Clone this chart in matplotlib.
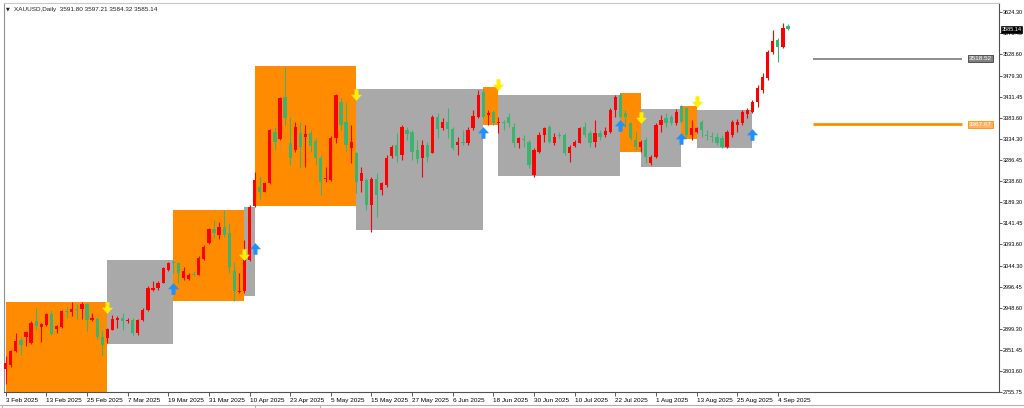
import matplotlib
matplotlib.use('Agg')
import matplotlib.pyplot as plt
import numpy as np
from matplotlib.path import Path
from matplotlib.patches import Rectangle
from matplotlib.lines import Line2D
import matplotlib.transforms as mtransforms

plt.rcParams['font.family'] = ['Liberation Sans', 'DejaVu Sans']

# ---------------- data ----------------
opens = [2808.3, 2818.1, 2848.5, 2873.7, 2881.4, 2867.7, 2917.1, 2904.3, 2909.5, 2934.7,
         2899.7, 2904.3, 2941.5, 2938.6, 2945.4, 2945.4, 2957.5, 2921.0, 2922.6, 2881.4,
         2879.1, 2898.1, 2921.0, 2924.9, 2917.1, 2921.0, 2890.6, 2921.0, 2943.8, 2989.5,
         2993.4, 3006.2, 3035.3, 3054.2, 3050.6, 3016.3, 3014.7, 3025.4, 3023.8, 3059.7,
         3096.3, 3128.3, 3115.3, 3134.2, 3119.1, 3031.4, 2984.3, 2985.7, 3058.1, 3182.3,
         3225.7, 3214.2, 3233.4, 3351.4, 3334.7, 3431.4, 3324.9, 3309.5, 3347.7, 3338.6,
         3347.7, 3330.1, 3290.6, 3243.3, 3241.0, 3336.3, 3419.9, 3374.2, 3314.8, 3302.0,
         3238.7, 3241.0, 3183.8, 3242.6, 3218.1, 3229.5, 3295.8, 3321.0, 3298.1, 3355.3,
         3350.0, 3309.5, 3290.6, 3321.0, 3303.4, 3385.7, 3359.1, 3374.2, 3356.9, 3321.0,
         3326.2, 3324.9, 3359.1, 3385.7, 3442.8, 3389.5, 3397.1, 3372.0, 3374.2, 3385.7,
         3362.8, 3324.9, 3334.0, 3328.5, 3252.4, 3305.7, 3343.8, 3362.8, 3326.2, 3343.8,
         3343.8, 3303.4, 3318.7, 3326.2, 3362.8, 3347.7, 3328.5, 3349.1, 3343.8, 3351.4,
         3401.0, 3435.3, 3394.8, 3370.6, 3332.4, 3317.1, 3332.4, 3279.1, 3294.2, 3366.7,
         3382.0, 3384.3, 3370.6, 3410.1, 3404.8, 3343.8, 3351.4, 3374.2, 3343.8, 3339.9,
         3339.9, 3336.3, 3317.1, 3343.8, 3366.7, 3370.6, 3391.1, 3397.1, 3418.6, 3446.7,
         3474.8, 3532.9, 3561.0, 3545.7, 3591.80]
highs = [2837.1, 2850.8, 2890.6, 2881.4, 2894.2, 2917.1, 2947.7, 2913.4, 2936.3, 2943.8,
         2909.5, 2942.7, 2950.0, 2961.4, 2957.5, 2960.5, 2959.1, 2936.3, 2927.2, 2898.1,
         2902.0, 2932.4, 2930.1, 2936.3, 2925.5, 2925.5, 2922.6, 2948.4, 2997.1, 3008.5,
         3008.5, 3042.8, 3054.2, 3058.1, 3054.2, 3041.4, 3027.7, 3031.4, 3065.7, 3092.4,
         3130.6, 3149.5, 3145.7, 3172.4, 3142.0, 3054.2, 3028.4, 3103.8, 3183.8, 3259.9,
         3248.5, 3237.1, 3357.5, 3362.8, 3431.4, 3500.0, 3385.7, 3374.2, 3374.2, 3366.7,
         3355.3, 3336.3, 3298.1, 3271.4, 3340.4, 3436.9, 3431.4, 3419.9, 3366.7, 3305.7,
         3271.4, 3244.9, 3248.5, 3256.3, 3237.1, 3298.1, 3321.0, 3347.7, 3366.7, 3362.8,
         3355.3, 3332.4, 3332.4, 3328.5, 3389.5, 3393.4, 3382.0, 3404.8, 3362.8, 3339.9,
         3355.3, 3362.8, 3401.0, 3446.7, 3448.3, 3401.0, 3401.0, 3385.7, 3378.1, 3393.4,
         3370.6, 3339.9, 3343.8, 3332.4, 3313.4, 3351.4, 3362.8, 3366.7, 3347.7, 3351.4,
         3347.7, 3321.0, 3332.4, 3362.8, 3374.2, 3355.3, 3378.1, 3355.3, 3362.8, 3404.8,
         3435.3, 3439.1, 3401.0, 3374.2, 3351.4, 3332.4, 3339.9, 3298.1, 3370.6, 3389.5,
         3393.4, 3389.5, 3402.6, 3412.4, 3408.5, 3378.1, 3362.8, 3378.1, 3355.3, 3351.4,
         3347.7, 3343.8, 3355.3, 3378.1, 3379.7, 3401.0, 3404.8, 3423.8, 3458.1, 3484.9,
         3538.1, 3583.8, 3564.9, 3599.1, 3597.21]
lows = [2775.0, 2813.5, 2846.2, 2840.3, 2861.5, 2866.1, 2898.1, 2869.1, 2905.7, 2886.7,
        2890.6, 2902.7, 2924.9, 2928.5, 2922.6, 2922.6, 2894.2, 2917.1, 2876.9, 2838.7,
        2867.7, 2896.5, 2902.0, 2898.1, 2914.1, 2886.7, 2886.7, 2918.7, 2941.5, 2985.7,
        2989.5, 3004.9, 3031.4, 3028.4, 3004.9, 3012.4, 3012.4, 3020.0, 3023.8, 3058.1,
        3094.7, 3107.7, 3105.4, 3111.4, 3027.7, 2962.8, 2982.0, 2982.0, 3055.8, 3179.3,
        3197.5, 3212.8, 3231.8, 3309.5, 3332.4, 3366.7, 3275.3, 3305.7, 3267.7, 3271.4,
        3305.7, 3275.3, 3206.7, 3237.1, 3238.7, 3324.9, 3355.3, 3305.7, 3279.1, 3210.6,
        3214.2, 3172.4, 3122.8, 3157.1, 3206.7, 3225.7, 3290.6, 3282.8, 3286.7, 3332.4,
        3286.7, 3279.1, 3248.5, 3282.8, 3302.0, 3336.3, 3355.3, 3336.3, 3309.5, 3298.1,
        3321.0, 3321.0, 3355.3, 3382.0, 3382.0, 3366.7, 3366.7, 3347.7, 3355.3, 3362.8,
        3317.1, 3313.4, 3317.1, 3267.7, 3248.5, 3302.0, 3328.5, 3324.9, 3321.0, 3336.3,
        3298.1, 3282.8, 3317.1, 3324.9, 3339.9, 3317.1, 3317.1, 3332.4, 3339.9, 3347.7,
        3385.7, 3382.0, 3362.8, 3332.4, 3309.5, 3305.7, 3279.1, 3275.3, 3290.6, 3351.4,
        3362.8, 3366.7, 3366.7, 3370.6, 3339.9, 3332.4, 3347.7, 3339.9, 3332.4, 3328.5,
        3321.0, 3313.4, 3313.4, 3339.9, 3351.4, 3366.7, 3382.0, 3393.4, 3408.5, 3439.1,
        3469.5, 3528.3, 3511.4, 3542.0, 3584.32]
closes = [2822.0, 2848.5, 2873.0, 2863.1, 2891.9, 2913.4, 2905.7, 2911.1, 2934.7, 2888.3,
          2905.7, 2941.5, 2937.7, 2945.4, 2942.2, 2957.5, 2921.0, 2924.9, 2881.4, 2863.8,
          2899.7, 2922.6, 2924.9, 2917.1, 2921.0, 2890.6, 2921.0, 2943.8, 2993.4, 2993.4,
          3006.2, 3039.1, 3050.6, 3050.6, 3027.7, 3031.4, 3023.8, 3023.1, 3062.0, 3088.5,
          3128.3, 3119.1, 3134.2, 3115.3, 3042.8, 2985.7, 2987.3, 3058.1, 3180.0, 3241.0,
          3214.2, 3234.8, 3355.3, 3328.5, 3427.7, 3382.0, 3290.6, 3362.8, 3317.1, 3346.1,
          3319.4, 3290.6, 3237.1, 3246.2, 3336.3, 3435.3, 3366.7, 3321.0, 3327.1, 3237.1,
          3256.3, 3183.8, 3242.6, 3206.7, 3233.4, 3292.0, 3317.1, 3295.8, 3362.8, 3346.1,
          3305.7, 3288.3, 3321.0, 3292.9, 3385.7, 3356.9, 3374.2, 3356.9, 3313.4, 3328.5,
          3324.9, 3355.3, 3387.2, 3435.3, 3385.7, 3393.4, 3370.6, 3374.2, 3372.0, 3370.6,
          3324.9, 3336.3, 3332.4, 3275.3, 3309.5, 3343.8, 3359.1, 3328.5, 3339.9, 3341.5,
          3302.0, 3317.1, 3328.5, 3359.1, 3343.8, 3324.9, 3347.7, 3338.6, 3353.7, 3401.0,
          3431.4, 3385.7, 3385.7, 3336.3, 3317.1, 3328.5, 3294.2, 3294.2, 3366.7, 3378.1,
          3370.6, 3370.6, 3397.1, 3374.2, 3343.8, 3360.5, 3359.1, 3355.3, 3341.5, 3338.6,
          3324.9, 3317.1, 3351.4, 3374.2, 3374.2, 3397.1, 3401.0, 3418.6, 3450.6, 3477.1,
          3534.2, 3558.7, 3545.7, 3587.7, 3585.14]

# zone boxes (bar index range and price range)
box_start = [0, 20, 33, 47, 49, 69, 94, 97, 121, 125, 133, 136]
box_end = [20, 33, 47, 49, 69, 94, 97, 121, 125, 133, 136, 147]
box_top = [2961.4, 3058.1, 3172.4, 3180.0, 3501.5, 3449.4, 3454.2, 3435.3, 3440.5, 3403.3, 3410.8, 3401.0]
box_bottom = [2740.0, 2866.1, 2962.8, 2975.8, 3182.3, 3126.7, 3366.7, 3250.8, 3305.7, 3271.4, 3334.0, 3314.8]
box_kind = ['buy', 'sell', 'buy', 'sell', 'buy', 'sell', 'buy', 'sell', 'buy', 'sell', 'buy', 'sell']

# signal arrows
sell_bars = [20, 47, 69, 97, 125, 136]
sell_tips = [2937.0, 3058.0, 3423.8, 3446.7, 3372.0, 3408.5]
buy_bars = [33, 49, 94, 121, 133, 147]
buy_tips = [3005.5, 3097.0, 3362.8, 3378.1, 3348.4, 3357.6]

# horizontal levels
level_upper = 3518.52
level_lower = 3367.67

# axes labels
date_tick_bars = list(range(0, 153, 8))
date_labels = ['3 Feb 2025', '13 Feb 2025', '25 Feb 2025', '7 Mar 2025', '19 Mar 2025',
               '31 Mar 2025', '10 Apr 2025', '23 Apr 2025', '5 May 2025', '15 May 2025',
               '27 May 2025', '6 Jun 2025', '18 Jun 2025', '30 Jun 2025', '10 Jul 2025',
               '22 Jul 2025', '1 Aug 2025', '13 Aug 2025', '25 Aug 2025', '4 Sep 2025']
price_ticks = [3624.30, 3576.45, 3528.60, 3479.30, 3431.45, 3383.60, 3334.30, 3286.45,
               3238.60, 3189.30, 3141.45, 3093.60, 3044.30, 2996.45, 2948.60, 2899.30,
               2851.45, 2803.60, 2755.75]
symbol = 'XAUUSD,Daily'

# ---------------- drawing ----------------
W, H = 1024, 408
fig = plt.figure(figsize=(W / 100, H / 100), dpi=100)
fig.patch.set_facecolor('white')
ax = fig.add_axes([4 / W, 16 / H, 995 / W, 389 / H])
ax.set_xlim(-0.335, 195.53)
ax.set_ylim(2756.4, 3645.5)

o = np.array(opens); h = np.array(highs); l = np.array(lows); c = np.array(closes)
x = np.arange(len(o))

ORANGE = '#FF8C00'
GRAY = '#A9A9A9'
for s, e, t, b, k in zip(box_start, box_end, box_top, box_bottom, box_kind):
    ax.add_patch(Rectangle((s, b), e - s, t - b, facecolor=ORANGE if k == 'buy' else GRAY,
                           edgecolor='none', zorder=1))

up = c >= o
cols = np.where(up, '#FF0000', '#3CB371')
ax.vlines(x, l, h, colors=cols, lw=0.8, zorder=3)
body_bottom = np.minimum(o, c)
body_h = np.maximum(np.abs(c - o), 1.6)
ax.bar(x, body_h, bottom=body_bottom, width=0.64, color=cols, linewidth=0, zorder=4)

# arrow markers (tip at the origin)
codes = [Path.MOVETO] + [Path.LINETO] * 6 + [Path.CLOSEPOLY]
down_v = [(0, 0), (0.45, 0.5), (0.15, 0.5), (0.15, 1.0), (-0.15, 1.0), (-0.15, 0.5), (-0.45, 0.5), (0, 0)]
up_v = [(vx, -vy) for vx, vy in down_v]
down_arrow = Path(down_v, codes)
up_arrow = Path(up_v, codes)
ax.plot(sell_bars, sell_tips, ls='none', marker=down_arrow, ms=16, color='#FFEE00',
        mec='#FFEE00', mew=0.3, zorder=6)
ax.plot(buy_bars, buy_tips, ls='none', marker=up_arrow, ms=16, color='#1E90FF',
        mec='#1E90FF', mew=0.3, zorder=6)

# levels
ax.hlines(level_upper, 158.9, 188.2, color='#707070', lw=1.1, zorder=5)
ax.hlines(level_lower, 158.9, 188.2, color=ORANGE, lw=2.0, zorder=5)
ax.text(189.6, level_upper, f'{level_upper:.2f}', ha='left', va='center', fontsize=4.6,
        color='white', zorder=7,
        bbox=dict(boxstyle='square,pad=0.15', fc='#808080', ec='#404040', lw=0.6))
ax.text(189.6, level_lower, f'{level_lower:.2f}', ha='left', va='center', fontsize=4.6,
        color='white', zorder=7,
        bbox=dict(boxstyle='square,pad=0.15', fc='#FFB060', ec=ORANGE, lw=0.6))

# axes styling
ax.set_xticks(date_tick_bars)
ax.set_xticklabels(date_labels, ha='left')
ax.tick_params(axis='x', length=3, width=0.6, pad=1.5, labelsize=4.6, color='#404040')
ax.yaxis.tick_right()
ax.set_yticks(price_ticks)
ax.set_yticklabels([f'{v:.2f}' for v in price_ticks])
ax.tick_params(axis='y', length=2, width=0.6, pad=0.8, labelsize=4.0, color='#404040')
for side in ['right', 'bottom']:
    ax.spines[side].set_color('#505050')
    ax.spines[side].set_linewidth(0.8)
ax.spines['left'].set_color('#909090')
ax.spines['top'].set_color('#c8c8c8')
ax.spines['left'].set_linewidth(0.8)
ax.spines['top'].set_linewidth(0.8)

# current price label on the axis
tr = mtransforms.blended_transform_factory(ax.transAxes, ax.transData)
ax.text(1.0025, c[-1], f'{c[-1]:.2f}', transform=tr, ha='left', va='center', fontsize=4.0,
        color='white', zorder=10, clip_on=False,
        bbox=dict(boxstyle='square,pad=0.15', fc='black', ec='black', lw=0.5))

# header
fig.text(6 / W, 1 - 9 / H, '\u25BC', fontsize=3.5, va='center', ha='left', color='#202020',
         family=['DejaVu Sans'])
fig.text(14 / W, 1 - 9 / H,
         f'{symbol}  {o[-1]:.2f} {h[-1]:.2f} {l[-1]:.2f} {c[-1]:.2f}',
         fontsize=4.6, va='center', ha='left', color='#202020')

# window chrome at the bottom
fig.add_artist(Line2D([0, 1], [1 - 404.5 / H] * 2, color='#b0b0b0', lw=0.8,
                      transform=fig.transFigure))
for px in [2, 255, 320]:
    fig.add_artist(Line2D([px / W] * 2, [0, 1 - 404.5 / H], color='#b0b0b0', lw=0.8,
                          transform=fig.transFigure))

fig.savefig('out.png', dpi=100, facecolor='white')
